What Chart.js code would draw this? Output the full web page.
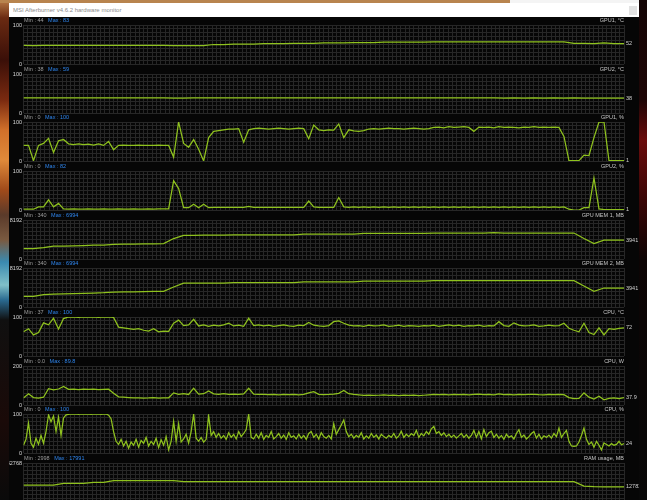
<!DOCTYPE html>
<html>
<head>
<meta charset="utf-8">
<script src="https://cdn.jsdelivr.net/npm/chart.js@4/dist/chart.umd.min.js"></script>
<style>
html,body{margin:0;padding:0;background:#000;}
#wrap{position:relative;width:647px;height:500px;overflow:hidden;background:#060606;}
#wall{position:absolute;left:0;top:0;width:9px;height:500px;background:linear-gradient(to bottom,#b97a45 0px,#6a2a12 18px,#3a0f08 60px,#7a2a10 100px,#d0702a 130px,#e08a3a 160px,#a04a1a 190px,#5a3a2a 215px,#7a5a40 240px,#3a8ab0 262px,#80c0c8 285px,#2a6a90 300px,#101010 320px,#1a0a08 420px,#0a0a0a 500px);}
#topband{position:absolute;left:0;top:0;width:510px;height:3px;background:#b8844e;}
#topwhite{position:absolute;left:510px;top:0;width:137px;height:3px;background:#f4f4f4;}
#title{position:absolute;left:9px;top:3px;width:630px;height:14px;background:#fff;}
#title span{position:absolute;left:4px;top:0;line-height:14px;font-size:6px;font-family:"Liberation Sans",Arial,sans-serif;color:#8c8c8c;white-space:nowrap;}
#closebox{position:absolute;left:629px;top:6px;width:8px;height:9px;background:#e2e2e2;}
#rightstrip{position:absolute;left:639px;top:0;width:8px;height:500px;background:linear-gradient(to bottom,#140505 0px,#1e0606 100px,#6a0c0c 140px,#3a0606 200px,#0c0404 260px,#080808 500px);}
canvas{position:absolute;left:9px;}
</style>
</head>
<body>
<div id="wrap">
  <div id="wall"></div>
  <div id="topband"></div>
  <div id="topwhite"></div>
  <div id="rightstrip"></div>
  <div id="title"><span>MSI Afterburner v4.6.2 hardware monitor</span></div>
  <div id="closebox"></div>
</div>
<script>
// ---- labels ----
const PANEL_NAMES = ["GPU1, °C","GPU2, °C","GPU1, %","GPU2, %","GPU MEM 1, MB","GPU MEM 2, MB","CPU, °C","CPU, W","CPU, %","RAM usage, MB"];
const MIN_LABELS = ["44","38","0","0","340","340","37","0.0","0","2998"];
const MAX_LABELS = ["83","59","100","82","6994","6994","100","89.8","100","17991"];
const CURRENT = ["52","38","1","1","3941","3941","72","37.9","24","12782"];
const SCALE_MAX = [100,100,100,100,8192,8192,100,200,100,32768];

// ---- series (sampled left to right across the time window) ----
const gpu1Temp = [48,47,48,48,48,48,48,48,48,48,48,48,48,48,48,
  47,47,47,47,50,50,
  51,51,51,52,52,52,53,53,53,54,54,54,55,55,55,56,56,56,56,56,
  57,57,57,57,57,57,57,57,57,57,57,57,57,57,
  53,53,52,54,52,52];

const gpu2Temp = [39,39,39,39,39,39,39,39,39,39,39,39,39,39,39,38,38,
  39,39,39,39,39,39,39,39,39,39,39,39,39,39,39,39,39,39,39,39,39,39,39,39,39,39,39,39,39,39,39,
  38,39,38,39,38,39,38,39,38,38,38,38,38];

const gpu1Usage = [40,40,1,40,45,58,22,52,55,44,42,44,42,43,41,44,40,
  50,29,40,
  41,40,40,41,40,40,40,41,40,40,
  10,100,45,35,55,30,0,60,76,78,80,82,82,83,48,80,
  83,84,83,82,83,84,83,82,83,84,83,
  57,92,80,78,80,79,95,60,80,77,76,78,82,
  83,82,83,84,83,83,82,83,84,83,82,83,
  86,87,85,88,86,87,88,86,76,87,86,87,85,88,86,87,86,85,87,86,88,86,87,86,87,86,
  63,1,1,1,15,14,60,100,100,1,1,1,1];

const gpu2Usage = [2,2,2,8,8,26,8,17,3,
  2,3,2,2,3,2,2,3,2,2,3,2,2,3,2,2,3,2,3,3,3,
  75,55,6,6,15,6,15,6,
  7,7,7,7,7,7,7,9,
  7,7,7,7,7,7,7,7,7,7,7,
  23,8,7,7,7,7,32,8,
  7,8,7,8,7,8,7,8,7,8,7,8,7,8,7,8,7,8,7,8,7,8,7,8,7,8,7,8,7,8,7,8,7,8,7,8,7,8,7,8,7,8,7,8,
  2,0,0,6,6,82,3,1,1,1,1,1];

const gpuMem1 = [2185,2185,2400,2680,2720,2780,2830,2890,2940,3090,3120,3150,3180,3200,3230,4300,4950,4960,4990,5020,5040,
  5050,5050,5050,5050,5050,5050,5050,
  5210,5210,5210,5210,5210,5210,
  5380,5380,5380,5380,5380,5380,5380,
  5460,5460,5460,5460,5460,5460,5520,5460,5460,5460,5460,5460,5460,5460,5460,
  4300,3230,3941,3941,3941];

const gpuMem2 = [2226,2226,2580,2680,2750,2800,2860,2920,3000,3150,3180,3200,3230,3260,3290,4200,5000,5010,5020,5030,5040,
  5100,5100,5100,5100,5100,5100,5100,
  5260,5260,5260,5260,5260,5260,
  5440,5440,5440,5440,5440,5440,5440,
  5525,5525,5525,5525,5525,5525,5560,5525,5525,5525,5525,5525,5525,5525,5525,
  4400,3280,3990,3941,3941];

const cpuTemp = [62,70,54,60,85,80,97,69,96,
  100,100,99,100,100,100,99,100,100,
  99,74,72,70,68,70,66,64,70,62,64,63,
  84,92,78,80,94,77,80,76,79,77,80,84,77,79,76,97,78,80,77,79,76,78,80,77,76,79,78,86,79,77,76,78,88,90,84,79,77,78,76,79,77,78,80,76,77,79,76,78,77,76,78,
  77,79,76,78,80,77,79,76,78,77,79,76,78,77,88,78,76,85,79,77,78,80,76,77,79,77,78,84,
  71,66,62,84,60,55,72,54,70,68,71,72];

const cpuPower = [36,58,38,35,40,84,78,82,95,80,82,79,81,80,82,79,80,81,60,42,40,38,36,37,35,36,38,35,36,37,
  62,55,58,54,86,56,58,72,57,55,58,54,56,55,57,86,56,54,55,53,55,52,54,53,55,52,54,62,68,55,53,54,56,60,75,58,54,52,50,51,49,50,52,49,50,48,51,49,50,48,50,
  52,54,53,55,52,54,53,55,52,54,56,53,54,52,57,53,54,52,55,53,54,55,53,52,54,53,55,53,
  38,33,34,62,40,30,45,27,34,36,33,38];

const cpuUsage = [20,35,77,25,15,38,22,45,25,55,
  98,80,95,55,92,45,90,98,
  99,100,100,100,99,100,100,100,100,99,100,100,100,99,100,100,97,88,
  55,30,22,35,18,30,12,28,20,35,15,32,25,40,18,30,22,38,14,34,20,42,8,30,
  81,30,75,28,36,48,25,55,100,38,30,40,28,35,96,45,55,40,50,38,
  45,35,52,40,48,36,55,42,50,60,100,40,36,48,38,52,35,45,40,55,
  36,42,50,38,46,35,52,40,44,36,48,38,45,35,50,55,40,48,36,52,
  42,38,45,36,75,48,60,72,85,55,42,48,38,45,40,52,36,44,38,50,
  40,46,36,48,42,38,45,40,50,38,44,56,40,48,42,50,
  45,58,40,50,44,55,48,62,68,50,55,45,52,42,48,40,46,38,44,50,
  40,47,38,45,58,40,55,36,60,42,52,56,40,48,38,45,35,48,40,44,
  36,50,60,40,46,36,42,50,55,38,48,36,44,40,46,38,50,42,64,40,50,58,
  30,18,17,18,28,45,64,35,22,28,15,30,20,8,26,22,18,24,20,22,30,21,24];

const ramUsage = [14280,14280,14280,14280,15700,15700,15700,16400,16400,
  17900,17900,17900,17900,17900,17900,17900,
  17060,17060,17060,17060,17060,17060,17060,17060,17060,17060,
  17060,17060,17060,17060,17060,17060,17060,17060,17060,17060,
  17060,17060,17060,17060,17060,17060,17060,17060,17060,17060,
  17060,17060,17060,17060,17060,17060,17060,17060,17060,17060,
  13400,12900,12782,12782,12782];

const SERIES = [gpu1Temp,gpu2Temp,gpu1Usage,gpu2Usage,gpuMem1,gpuMem2,cpuTemp,cpuPower,cpuUsage,ramUsage];
const PANEL_TOPS = [25,74,122,171,220,268,317,366,414,463];

// ---- drawing ----
const FONT = '"Liberation Sans", Arial, sans-serif';
const GRID = '#272727';
const LINE = '#8fc21e';

const panelText = {
  id: 'panelText',
  afterDatasetsDraw(chart, args, o) {
    const ctx = chart.ctx, a = chart.chartArea, ys = chart.scales.y;
    const d = chart.data.datasets[0].data;
    ctx.save();
    ctx.font = '5.5px ' + FONT;
    ctx.textBaseline = 'middle';
    const ly = a.top - 4.5;
    ctx.textAlign = 'left';
    const minT = 'Min : ' + o.min;
    ctx.fillStyle = '#9c9c9c';
    ctx.fillText(minT, a.left + 0.5, ly);
    ctx.fillStyle = '#2f86ee';
    ctx.fillText('Max : ' + o.max, a.left + 0.5 + ctx.measureText(minT).width + 4.5, ly);
    ctx.textAlign = 'right';
    ctx.fillStyle = '#c4c4c4';
    ctx.fillText(o.name, a.right, ly);
    ctx.textAlign = 'left';
    ctx.fillStyle = '#cfcfcf';
    ctx.fillText(o.current, a.right + 2, ys.getPixelForValue(d[d.length - 1]));
    ctx.restore();
  }
};

const wrap = document.getElementById('wrap');
SERIES.forEach((vals, i) => {
  const cv = document.createElement('canvas');
  cv.width = 630; cv.height = 55;
  cv.style.width = '630px'; cv.style.height = '55px';
  cv.style.top = (PANEL_TOPS[i] - 10) + 'px';
  wrap.appendChild(cv);
  const n = vals.length;
  new Chart(cv, {
    type: 'line',
    data: {
      labels: vals.map((_, k) => k),
      datasets: [{ data: vals, borderColor: LINE, borderWidth: 1.25, pointRadius: 0, tension: 0, fill: false }]
    },
    options: {
      responsive: false, animation: false, events: [],
      layout: { padding: { top: 10, bottom: 6, left: 0, right: 15 } },
      plugins: {
        legend: { display: false }, tooltip: { enabled: false },
        panelText: { name: PANEL_NAMES[i], min: MIN_LABELS[i], max: MAX_LABELS[i], current: CURRENT[i] }
      },
      scales: {
        x: {
          type: 'linear', min: 0, max: n - 1,
          grid: { color: GRID, lineWidth: 1, drawTicks: false },
          border: { display: false },
          ticks: { display: false, count: 141 },
          afterFit(s) { s.height = 0; }
        },
        y: {
          min: 0, max: SCALE_MAX[i],
          grid: { color: GRID, lineWidth: 1, drawTicks: false },
          border: { display: false },
          ticks: {
            count: 11, autoSkip: false, padding: 1.5, color: '#d8d8d8',
            font: { family: 'Liberation Sans', size: 5.5 },
            callback: (v, k, arr) => (k === 0 || k === arr.length - 1) ? String(v) : ''
          },
          afterFit(s) { s.width = 14.5; }
        }
      }
    },
    plugins: [panelText]
  });
});
</script>
</body>
</html>
